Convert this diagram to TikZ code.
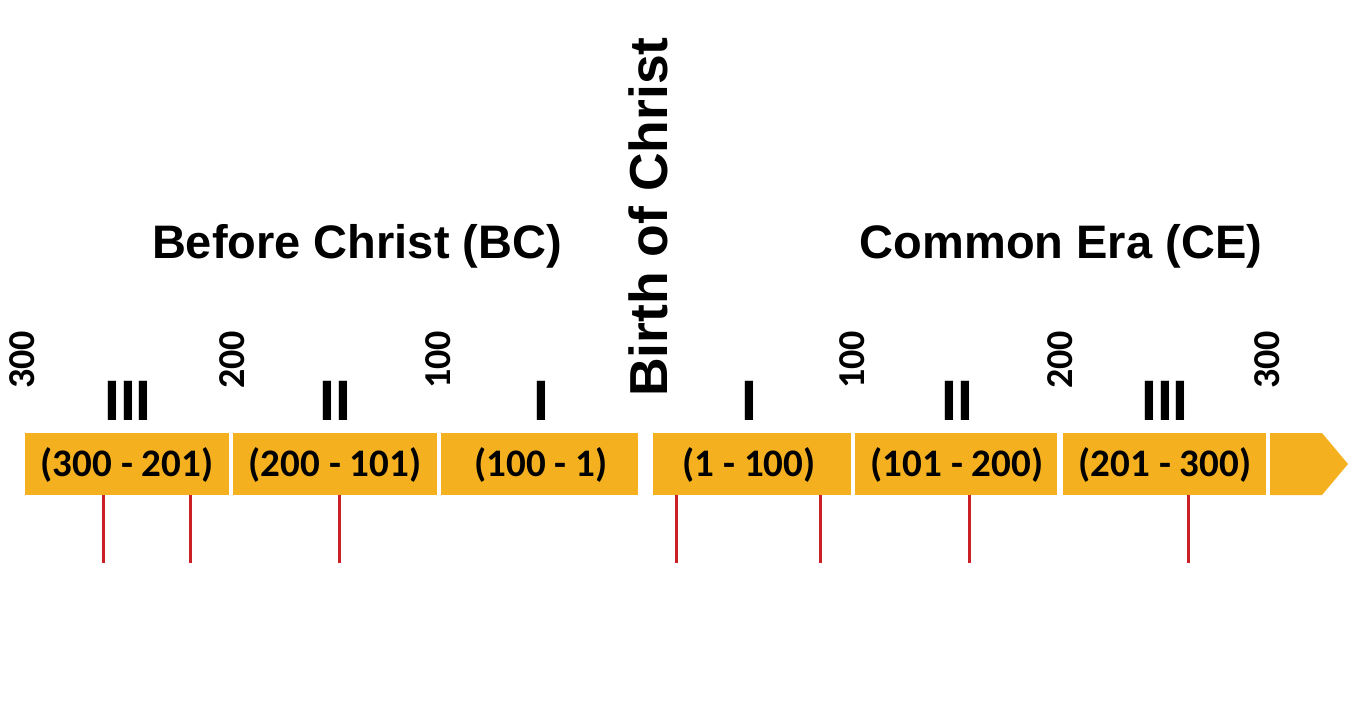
\documentclass[tikz,border=0pt]{standalone}
\usepackage{fontspec}
\setmainfont{Liberation Sans}
\newfontfamily\carlito{Carlito}
\definecolor{barorange}{HTML}{F4B01F}
\definecolor{tickred}{HTML}{CC2027}
\tikzset{
  seg/.style={fill=barorange, draw=none},
  rng/.style={inner sep=0pt, font=\carlito\bfseries\fontsize{19.5pt}{20pt}\selectfont},
  yr/.style={inner sep=0pt, rotate=90, font=\carlito\bfseries\fontsize{19pt}{20pt}\selectfont},
  rom/.style={inner sep=0pt, anchor=base, font=\bfseries\fontsize{28.5pt}{30pt}\selectfont},
  era/.style={inner sep=0pt, anchor=base, font=\bfseries\fontsize{23.5pt}{25pt}\selectfont},
  mark line/.style={draw=tickred, line width=1.5pt}
}
\begin{document}
\begin{tikzpicture}[x=0.5pt,y=-0.5pt]
\useasboundingbox (0,0) rectangle (1367,708);
% bar segments
\fill[seg] (25,433) rectangle (229,495);
\fill[seg] (233,433) rectangle (437,495);
\fill[seg] (441,433) rectangle (638,495);
\fill[seg] (653,433) rectangle (851,495);
\fill[seg] (855,433) rectangle (1057,495);
\fill[seg] (1063,433) rectangle (1266,495);
\fill[seg] (1270,433) -- (1322,433) -- (1348,464) -- (1322,495) -- (1270,495) -- cycle;
% range labels
\node[rng] (r1) at (127,465) {(300 - 201)};
\node[rng] (r2) at (335,465) {(200 - 101)};
\node[rng] (r3) at (541,465) {(100 - 1)};
\node[rng] (r4) at (749,465) {(1 - 100)};
\node[rng] (r5) at (957,465) {(101 - 200)};
\node[rng] (r6) at (1165,465) {(201 - 300)};
% roman numerals
\node[rom] (c1) at (128,420) {III};
\node[rom] (c2) at (335,420) {II};
\node[rom] (c3) at (541,420) {I};
\node[rom] (c4) at (749,420) {I};
\node[rom] (c5) at (957,420) {II};
\node[rom] (c6) at (1165,420) {III};
% year marks
\node[yr] (y1) at (22,360) {300};
\node[yr] (y2) at (232,360) {200};
\node[yr] (y3) at (438,360) {100};
\node[yr] (y4) at (852,360) {100};
\node[yr] (y5) at (1060,360) {200};
\node[yr] (y6) at (1267,360) {300};
% titles
\node[era] (bc) at (357,258) {Before Christ (BC)};
\node[era] (ce) at (1061,258) {Common Era (CE)};
\node[inner sep=0pt, rotate=90, font=\bfseries\fontsize{26.75pt}{28pt}\selectfont] (birth) at (648,217) {Birth of Christ};
% red marks
\foreach \x/\n in {103/m1,190/m2,339/m3,676/m4,820/m5,969/m6,1188/m7}{
  \coordinate (\n a) at (\x,495);
  \coordinate (\n b) at (\x,563);
  \draw[mark line] (\n a) -- (\n b);
}
\end{tikzpicture}
\end{document}
